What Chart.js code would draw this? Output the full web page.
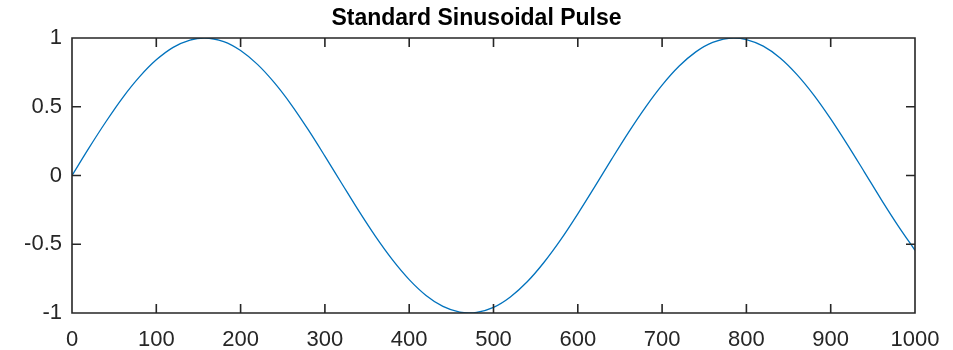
<!DOCTYPE html>
<html>
<head>
<meta charset="utf-8">
<script src="https://cdn.jsdelivr.net/npm/chart.js@4"></script>
<style>
  html, body { margin: 0; padding: 0; background: #fff; }
  #wrap { width: 953px; height: 350px; }
</style>
</head>
<body>
<div id="wrap"><canvas id="pulseChart"></canvas></div>
<script>
// samples
var sampleX = [0, 20, 40, 60, 80, 100, 120, 140, 157, 180, 200, 220, 240, 260, 280, 300,
  320, 340, 360, 380, 400, 420, 440, 460, 471, 480, 500, 520, 540, 560, 580, 600,
  620, 640, 660, 680, 700, 720, 740, 760, 785, 800, 820, 840, 860, 880, 900, 920,
  940, 960, 980, 1000];
var pulseY = [0, 0.199, 0.389, 0.565, 0.717, 0.841, 0.932, 0.985, 1, 0.974, 0.909, 0.808,
  0.675, 0.516, 0.335, 0.141, -0.058, -0.256, -0.443, -0.612, -0.757, -0.872, -0.952,
  -0.994, -1, -0.996, -0.959, -0.883, -0.773, -0.631, -0.465, -0.279, -0.083, 0.117,
  0.312, 0.494, 0.657, 0.794, 0.899, 0.968, 1, 0.989, 0.941, 0.855, 0.734, 0.585,
  0.412, 0.223, 0.025, -0.175, -0.366, -0.544];
var xTicks = [0, 100, 200, 300, 400, 500, 600, 700, 800, 900, 1000];
var yTicks = [-1, -0.5, 0, 0.5, 1];
var chartTitle = 'Standard Sinusoidal Pulse';

var points = sampleX.map(function (x, i) { return { x: x, y: pulseY[i] }; });
var axisColor = '#262626';
var fontFamily = '"Liberation Sans", Arial, sans-serif';

// box around the plot with inward ticks on all four sides (MATLAB look)
var boxPlugin = {
  id: 'boxAxes',
  afterDatasetsDraw: function (chart) {
    var ctx = chart.ctx, a = chart.chartArea;
    var xs = chart.scales.x, ys = chart.scales.y;
    var len = 9;
    ctx.save();
    ctx.strokeStyle = axisColor;
    ctx.lineWidth = 1.6;
    ctx.beginPath();
    ctx.rect(a.left, a.top, a.right - a.left, a.bottom - a.top);
    xTicks.forEach(function (v) {
      var px = xs.getPixelForValue(v);
      ctx.moveTo(px, a.bottom); ctx.lineTo(px, a.bottom - len);
      ctx.moveTo(px, a.top); ctx.lineTo(px, a.top + len);
    });
    yTicks.forEach(function (v) {
      var py = ys.getPixelForValue(v);
      ctx.moveTo(a.left, py); ctx.lineTo(a.left + len, py);
      ctx.moveTo(a.right, py); ctx.lineTo(a.right - len, py);
    });
    ctx.stroke();
    ctx.restore();
  }
};

new Chart(document.getElementById('pulseChart'), {
  type: 'line',
  data: {
    datasets: [{
      data: points,
      borderColor: '#0072BD',
      borderWidth: 1.3,
      pointRadius: 0,
      fill: false,
      cubicInterpolationMode: 'monotone'
    }]
  },
  options: {
    responsive: true,
    maintainAspectRatio: false,
    animation: false,
    layout: { padding: 0 },
    plugins: {
      legend: { display: false },
      tooltip: { enabled: false },
      title: {
        display: true,
        text: chartTitle,
        color: '#000',
        font: { family: fontFamily, size: 23, weight: 'bold' },
        padding: { top: 5, bottom: 5.4 }
      }
    },
    scales: {
      x: {
        type: 'linear',
        min: 0, max: 1000,
        afterBuildTicks: function (s) { s.ticks = xTicks.map(function (v) { return { value: v }; }); },
        afterFit: function (s) { s.height = 37; },
        grid: { display: false },
        border: { display: false },
        ticks: {
          color: axisColor,
          padding: 6,
          maxRotation: 0,
          font: { family: fontFamily, size: 22 },
          callback: function (v) { return String(v); }
        }
      },
      y: {
        min: -1, max: 1,
        afterBuildTicks: function (s) { s.ticks = yTicks.map(function (v) { return { value: v }; }); },
        afterFit: function (s) { s.width = 72; },
        grid: { display: false },
        border: { display: false },
        ticks: {
          color: axisColor,
          padding: 2,
          font: { family: fontFamily, size: 22 },
          callback: function (v) { return String(v); }
        }
      },
      // empty right-hand axis: only reserves the margin right of the box
      yRight: {
        position: 'right',
        min: -1, max: 1,
        afterFit: function (s) { s.width = 38; },
        grid: { display: false },
        border: { display: false },
        ticks: { display: false }
      }
    }
  },
  plugins: [boxPlugin]
});
</script>
</body>
</html>
